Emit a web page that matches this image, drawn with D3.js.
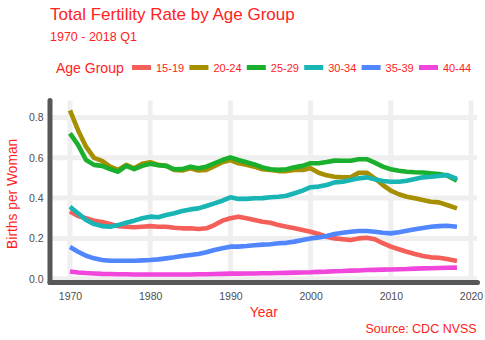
<!DOCTYPE html>
<html>
<head>
<meta charset="utf-8">
<script src="https://cdn.jsdelivr.net/npm/d3@7"></script>
<style>
  html, body { margin: 0; padding: 0; background: #fff; }
  svg { display: block; font-family: "Liberation Sans", Arial, sans-serif; }
</style>
</head>
<body>
<svg id="chart" width="485" height="340"></svg>
<script>
// yearly values, last point is 2018 Q1
const years = [1970, 1971, 1972, 1973, 1974, 1975, 1976, 1977, 1978, 1979,
  1980, 1981, 1982, 1983, 1984, 1985, 1986, 1987, 1988, 1989,
  1990, 1991, 1992, 1993, 1994, 1995, 1996, 1997, 1998, 1999,
  2000, 2001, 2002, 2003, 2004, 2005, 2006, 2007, 2008, 2009,
  2010, 2011, 2012, 2013, 2014, 2015, 2016, 2017, 2018.25];

const ageGroups = ["15-19", "20-24", "25-29", "30-34", "35-39", "40-44"];
const groupColors = ["#f45f5a", "#a68f00", "#1aaf2c", "#19b4b4", "#5087ff", "#f046dc"];

const rate1519 = [0.333, 0.311, 0.300, 0.288, 0.281, 0.271, 0.261, 0.258, 0.255, 0.258,
  0.261, 0.258, 0.258, 0.253, 0.250, 0.250, 0.247, 0.250, 0.266, 0.288,
  0.300, 0.308, 0.300, 0.291, 0.283, 0.278, 0.266, 0.258, 0.250, 0.242,
  0.233, 0.222, 0.208, 0.200, 0.196, 0.192, 0.200, 0.203, 0.196, 0.176,
  0.159, 0.146, 0.134, 0.123, 0.113, 0.106, 0.104, 0.098, 0.088];
const rate2024 = [0.835, 0.737, 0.655, 0.600, 0.585, 0.556, 0.540, 0.565, 0.548, 0.570,
  0.578, 0.565, 0.560, 0.540, 0.537, 0.548, 0.537, 0.540, 0.558, 0.578,
  0.589, 0.573, 0.565, 0.556, 0.543, 0.540, 0.534, 0.534, 0.540, 0.540,
  0.548, 0.526, 0.513, 0.506, 0.503, 0.503, 0.526, 0.526, 0.498, 0.465,
  0.437, 0.419, 0.407, 0.399, 0.390, 0.382, 0.379, 0.366, 0.349];
const rate2529 = [0.721, 0.664, 0.589, 0.565, 0.560, 0.544, 0.531, 0.560, 0.544, 0.560,
  0.570, 0.563, 0.560, 0.543, 0.544, 0.556, 0.548, 0.556, 0.573, 0.589,
  0.602, 0.589, 0.578, 0.567, 0.552, 0.543, 0.540, 0.543, 0.553, 0.560,
  0.573, 0.573, 0.579, 0.586, 0.585, 0.585, 0.593, 0.593, 0.576, 0.556,
  0.543, 0.536, 0.531, 0.528, 0.527, 0.523, 0.520, 0.512, 0.487];
const rate3034 = [0.357, 0.325, 0.291, 0.271, 0.261, 0.258, 0.266, 0.278, 0.288, 0.300,
  0.308, 0.305, 0.316, 0.325, 0.336, 0.344, 0.349, 0.361, 0.374, 0.387,
  0.404, 0.396, 0.396, 0.399, 0.400, 0.404, 0.407, 0.412, 0.424, 0.437,
  0.454, 0.457, 0.465, 0.478, 0.481, 0.490, 0.498, 0.503, 0.493, 0.485,
  0.481, 0.481, 0.486, 0.495, 0.503, 0.506, 0.510, 0.515, 0.495];
const rate3539 = [0.157, 0.134, 0.114, 0.101, 0.093, 0.089, 0.089, 0.089, 0.089, 0.091,
  0.093, 0.096, 0.101, 0.106, 0.113, 0.118, 0.123, 0.131, 0.142, 0.151,
  0.159, 0.159, 0.162, 0.166, 0.169, 0.171, 0.176, 0.178, 0.184, 0.192,
  0.200, 0.205, 0.212, 0.222, 0.228, 0.233, 0.237, 0.237, 0.233, 0.228,
  0.225, 0.231, 0.238, 0.245, 0.252, 0.258, 0.261, 0.263, 0.258];
const rate4044 = [0.036, 0.031, 0.028, 0.026, 0.024, 0.023, 0.022, 0.022, 0.021, 0.021,
  0.021, 0.021, 0.021, 0.021, 0.021, 0.021, 0.022, 0.022, 0.023, 0.024,
  0.025, 0.025, 0.026, 0.026, 0.027, 0.027, 0.028, 0.029, 0.030, 0.031,
  0.032, 0.034, 0.035, 0.037, 0.038, 0.040, 0.041, 0.043, 0.044, 0.045,
  0.046, 0.047, 0.048, 0.050, 0.051, 0.052, 0.053, 0.054, 0.055];

const xTicks = [1970, 1980, 1990, 2000, 2010, 2020];
const yTicks = [0, 0.2, 0.4, 0.6, 0.8];

const seriesValues = [rate1519, rate2024, rate2529, rate3034, rate3539, rate4044];
const series = ageGroups.map((g, i) => ({
  group: g,
  color: groupColors[i],
  points: years.map((yr, j) => ({ year: yr, rate: seriesValues[i][j] }))
}));

const red = "#ff2222";
const svg = d3.select("#chart");

// panel box
const panel = { left: 50, right: 476, top: 100.5, bottom: 282.5 };

const x = d3.scaleLinear().domain([1970, 2020]).range([70, 471]);
const y = d3.scaleLinear().domain([0, 0.8]).range([278.7, 117.5]);

// titles
svg.append("text").attr("x", 50).attr("y", 20)
  .style("font-size", "17px").style("fill", red)
  .text("Total Fertility Rate by Age Group");
svg.append("text").attr("x", 50).attr("y", 40.5)
  .style("font-size", "12.5px").style("fill", red)
  .text("1970 - 2018 Q1");

// legend
const legend = svg.append("g").attr("class", "legend");
legend.append("text").attr("x", 56).attr("y", 73)
  .style("font-size", "14px").style("fill", red)
  .text("Age Group");
const item = legend.selectAll("g.item")
  .data(series)
  .enter().append("g")
  .attr("class", "item")
  .attr("transform", (d, i) => "translate(" + (132 + i * 57.4) + ",0)");
item.append("rect")
  .attr("x", 0).attr("y", 65).attr("width", 19).attr("height", 5)
  .attr("fill", d => d.color);
item.append("text")
  .attr("x", 24).attr("y", 72.3)
  .style("font-size", "11px").style("fill", red)
  .text(d => d.group);

// grid lines
const grid = svg.append("g").attr("class", "grid")
  .attr("stroke", "#efefef").attr("stroke-width", 5);
grid.selectAll("line.v")
  .data(xTicks)
  .enter().append("line")
  .attr("class", "v")
  .attr("x1", d => x(d)).attr("x2", d => x(d))
  .attr("y1", panel.top).attr("y2", panel.bottom);
grid.selectAll("line.h")
  .data(yTicks)
  .enter().append("line")
  .attr("class", "h")
  .attr("x1", panel.left).attr("x2", panel.right + 1)
  .attr("y1", d => y(d)).attr("y2", d => y(d));

// lines
const line = d3.line()
  .x(d => x(d.year))
  .y(d => y(d.rate));
svg.append("g").selectAll("path")
  .data(series)
  .enter().append("path")
  .attr("d", d => line(d.points))
  .attr("fill", "none")
  .attr("stroke", d => d.color)
  .attr("stroke-width", 4.6)
  .attr("stroke-linejoin", "round");

// axes (labels only, no ticks)
const xAxis = svg.append("g")
  .attr("transform", "translate(0," + (panel.bottom + 6.5) + ")")
  .call(d3.axisBottom(x).tickValues(xTicks).tickFormat(d3.format("d")).tickSize(0).tickPadding(0));
const yAxis = svg.append("g")
  .attr("transform", "translate(" + (panel.left - 6.5) + ",0)")
  .call(d3.axisLeft(y).tickValues(yTicks).tickFormat(d3.format(".1f")).tickSize(0).tickPadding(0));
[xAxis, yAxis].forEach(a => {
  a.select(".domain").remove();
  a.selectAll("text")
    .style("font-family", "Liberation Sans, Arial, sans-serif")
    .style("font-size", "10.5px")
    .style("fill", "#4d4d4d");
});
xAxis.selectAll("text").attr("dy", "0.71em").attr("y", 3.3);

// axis lines
svg.append("line")
  .attr("x1", panel.left).attr("x2", panel.left)
  .attr("y1", panel.top).attr("y2", panel.bottom)
  .attr("stroke", "#575757").attr("stroke-width", 5).attr("stroke-linecap", "round");
svg.append("line")
  .attr("x1", panel.left).attr("x2", 477.5)
  .attr("y1", panel.bottom).attr("y2", panel.bottom)
  .attr("stroke", "#575757").attr("stroke-width", 5).attr("stroke-linecap", "round");

// axis titles
svg.append("text")
  .attr("x", 263.8).attr("y", 316.5)
  .attr("text-anchor", "middle")
  .style("font-size", "13.8px").style("fill", red)
  .text("Year");
svg.append("text")
  .attr("transform", "translate(17.3,193.8) rotate(-90)")
  .attr("text-anchor", "middle")
  .style("font-size", "13.8px").style("fill", red)
  .text("Births per Woman");

// caption
svg.append("text")
  .attr("x", 476.7).attr("y", 333.3)
  .attr("text-anchor", "end")
  .style("font-size", "12.5px").style("fill", red)
  .text("Source: CDC NVSS");
</script>
</body>
</html>
